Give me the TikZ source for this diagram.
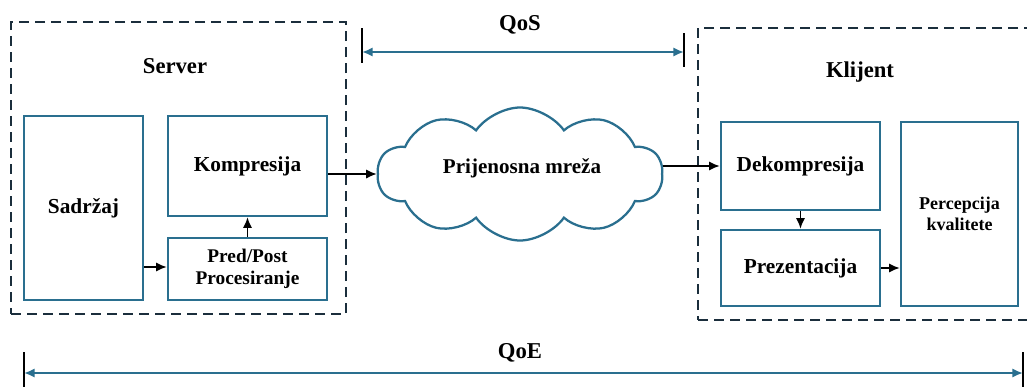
\documentclass[tikz,border=0pt]{standalone}
\usepackage{fontspec}
\setmainfont{Liberation Serif}
\usetikzlibrary{shapes.symbols,arrows.meta}
\definecolor{boxblue}{HTML}{2A6F8F}
\definecolor{framenavy}{HTML}{1B2E3C}
\tikzset{gbox/.style={
    rectangle,
    draw=boxblue,
    line width=1.9pt,
    align=center,
    font=\bfseries\fontsize{16}{18}\selectfont,
    inner sep=0pt
  },
  tallbox/.style={gbox,minimum width=119*0.75pt,minimum height=184*0.75pt},
  widebox/.style={gbox,minimum width=159*0.75pt},
  framebox/.style={rectangle,draw=framenavy,line width=2pt,
    dash pattern=on 7.5pt off 4.5pt,minimum width=335*0.75pt,minimum height=292*0.75pt},
  titletext/.style={font=\bfseries\fontsize{17}{20}\selectfont},
  netcloud/.style={cloud,cloud puffs=10,cloud puff arc=110,cloud ignores aspect,
    draw=boxblue,line width=1.7pt,minimum width=285*0.75pt,minimum height=133*0.75pt},
  spanline/.style={draw=boxblue,line width=1.8pt,<->},
  barline/.style={draw=black,line width=1.4pt},
  flow/.style={line width=1.3pt,->},
}

\begin{document}
\begin{tikzpicture}[x=0.75pt,y=-0.75pt,>={Latex[length=8pt,width=7pt]}]
  \useasboundingbox (0,0) rectangle (1027,387);
  % server side
  \node [framebox] (server) at (178.5,168) {};
  \node [titletext] (servertitle) at (175,66) {Server};
  \node [tallbox] (sadrzaj) at (83.5,208) {Sadržaj};
  \node [widebox,minimum height=100*0.75pt] (kompresija) at (247.5,166) {Kompresija};
  \node [widebox,minimum height=62*0.75pt,font=\bfseries\fontsize{14.5}{17}\selectfont]
    (predpost) at (247.5,269) {Pred/Post\\Procesiranje};
  % network
  \node [netcloud] (mreza) at (520,174) {};
  \node [font=\bfseries\fontsize{15.8}{18}\selectfont] (mrezatext) at (522,168) {Prijenosna mreža};
  % client side
  \node [framebox,minimum width=342*0.75pt] (klijent) at (869,174) {};
  \node [titletext] (klijenttitle) at (860,72) {Klijent};
  \node [widebox,minimum height=88*0.75pt] (dekompresija) at (800.5,166) {Dekompresija};
  \node [widebox,minimum height=76*0.75pt] (prezentacija) at (800.5,268) {Prezentacija};
  \node [tallbox,minimum width=117*0.75pt,font=\bfseries\fontsize{13.5}{16}\selectfont]
    (percepcija) at (959.5,214) {Percepcija\\kvalitete};
  % QoS / QoE spans
  \coordinate (qosL) at (362,52);
  \coordinate (qosR) at (684,52);
  \coordinate (qoeL) at (24,373);
  \coordinate (qoeR) at (1023,373);
  \node [titletext] (qos) at (520,25) {QoS};
  \node [titletext] (qoe) at (520,353) {QoE};
  \draw[barline] ([yshift=24*0.75pt]qosL) -- ([yshift=-11*0.75pt]qosL);
  \draw[barline] ([yshift=19*0.75pt]qosR) -- ([yshift=-15*0.75pt]qosR);
  \draw[spanline] (qosL) -- (qosR);
  \draw[barline] ([yshift=21*0.75pt]qoeL) -- ([yshift=-14*0.75pt]qoeL);
  \draw[barline] ([yshift=21*0.75pt]qoeR) -- ([yshift=-14*0.75pt]qoeR);
  \draw[spanline] (qoeL) -- (qoeR);
  % flow
  \coordinate (sadrzajout) at ([yshift=-59*0.75pt]sadrzaj.east);
  \coordinate (kompout) at ([yshift=-8*0.75pt]kompresija.east);
  \draw[flow] (sadrzajout) -- (predpost.west |- sadrzajout);
  \draw[flow] (predpost) -- (kompresija);
  \draw[flow] (kompout) -- (mreza.west |- kompout);
  \draw[flow] (mreza.east |- dekompresija.west) -- (dekompresija.west);
  \draw[flow] (dekompresija) -- (prezentacija);
  \draw[flow] (prezentacija) -- (prezentacija -| percepcija.west);
\end{tikzpicture}
\end{document}
